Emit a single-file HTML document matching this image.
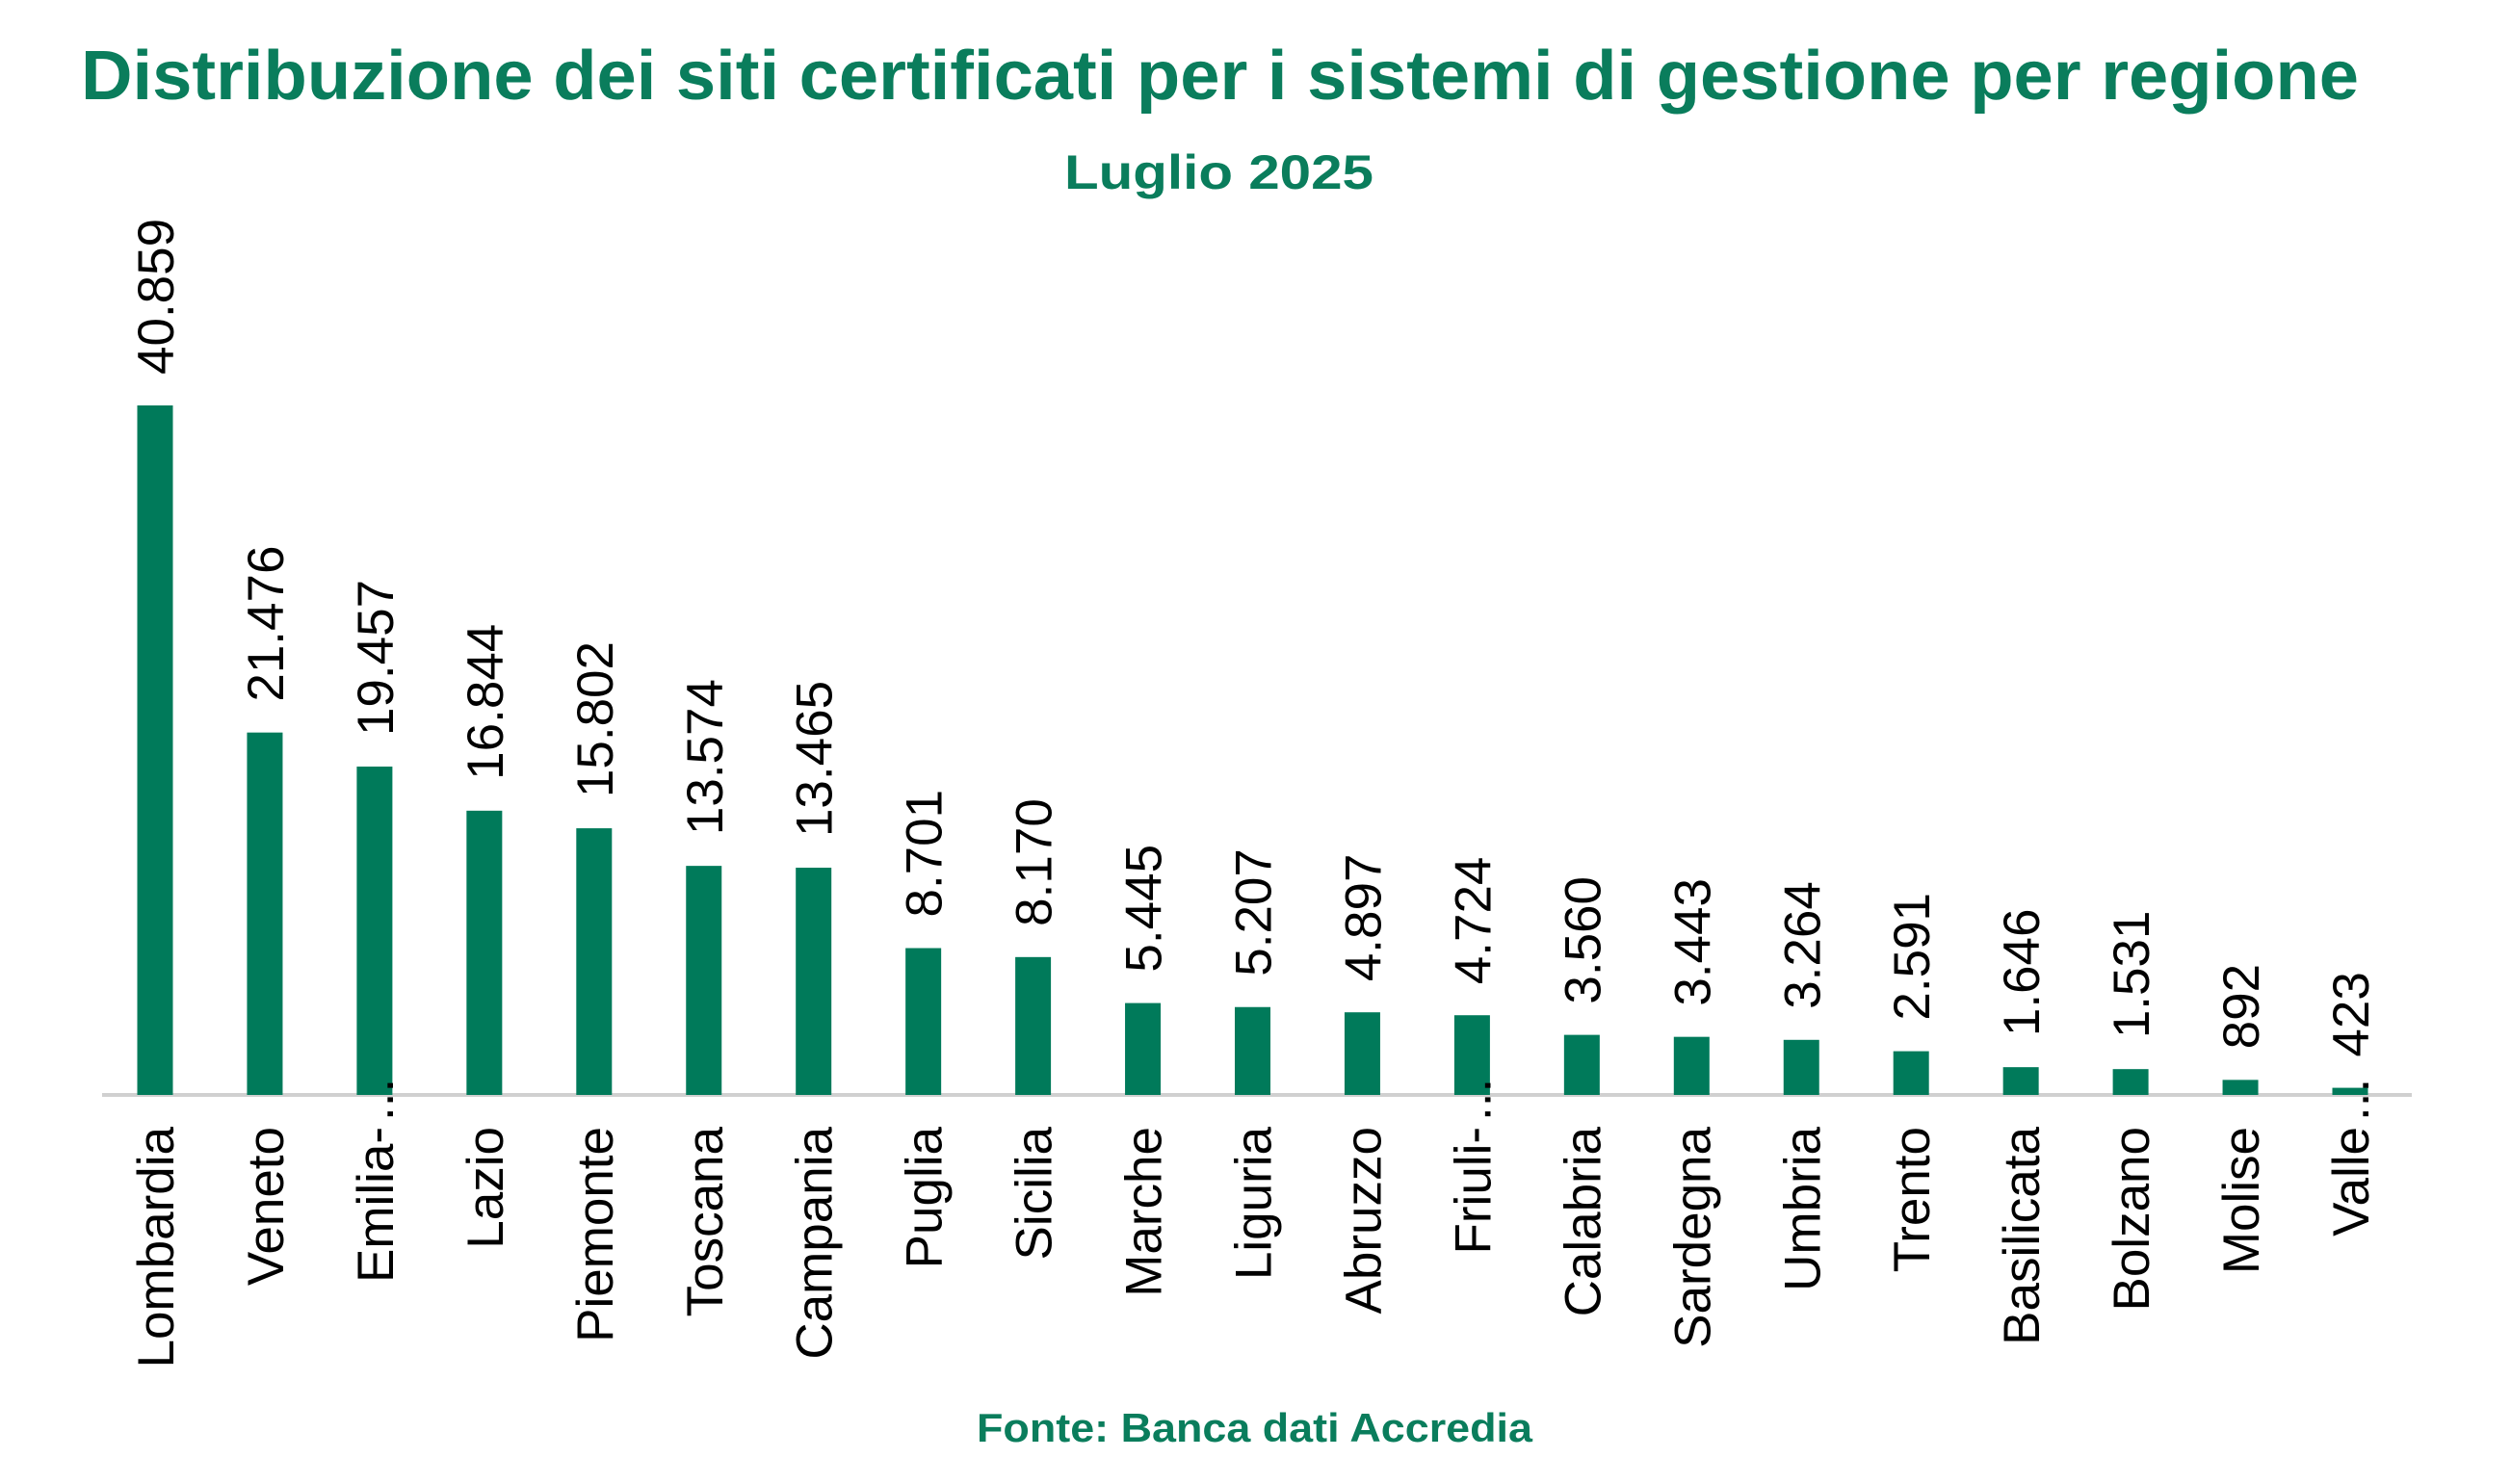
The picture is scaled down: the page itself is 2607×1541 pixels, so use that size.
<!DOCTYPE html>
<html><head><meta charset="utf-8"><style>
html,body{margin:0;padding:0;background:#fff;}
svg{display:block;}
</style></head><body>
<svg width="2607" height="1541" viewBox="0 0 2607 1541" xmlns="http://www.w3.org/2000/svg">
<g font-family="'Liberation Sans Narrow','Liberation Sans',sans-serif" font-weight="bold" fill="#0a7d5c">
<text x="84" y="103" font-size="72" textLength="2365" lengthAdjust="spacingAndGlyphs">Distribuzione dei siti certificati per i sistemi di gestione per regione</text>
<text x="1105" y="196" font-size="50" textLength="321" lengthAdjust="spacingAndGlyphs">Luglio 2025</text>
<text x="1014" y="1497" font-size="42" textLength="577" lengthAdjust="spacingAndGlyphs">Fonte: Banca dati Accredia</text>
</g>
<line x1="106" y1="1137" x2="2504" y2="1137" stroke="#d0d0d0" stroke-width="4"/>
<g id="bars" fill="#007a5a"></g>
<g id="labels" font-family="'Liberation Sans',Arial,sans-serif" font-size="53" fill="#000"></g>
<script>
(function(){
var vals=[40859,21476,19457,16844,15802,13574,13465,8701,8170,5445,5207,4897,4724,3560,3443,3264,2591,1646,1531,892,423];
var fmt=["40.859","21.476","19.457","16.844","15.802","13.574","13.465","8.701","8.170","5.445","5.207","4.897","4.724","3.560","3.443","3.264","2.591","1.646","1.531","892","423"];
var names=["Lombardia","Veneto","Emilia-","Lazio","Piemonte","Toscana","Campania","Puglia","Sicilia","Marche","Liguria","Abruzzo","Friuli-","Calabria","Sardegna","Umbria","Trento","Basilicata","Bolzano","Molise","Valle"];
var ell={2:1,12:1,20:1};
var base=1137,k=716/40859,b=document.getElementById('bars'),l=document.getElementById('labels'),ns="http://www.w3.org/2000/svg";
for(var i=0;i<21;i++){
 var cx=161+i*113.95,h=vals[i]*k,yt=base-h;
 var r=document.createElementNS(ns,'rect');
 r.setAttribute('x',cx-18.5);r.setAttribute('y',yt);r.setAttribute('width',37);r.setAttribute('height',h);b.appendChild(r);
 var t=document.createElementNS(ns,'text');
 t.setAttribute('transform','translate('+(cx+19)+','+(yt-32)+') rotate(-90)');
 t.textContent=fmt[i];l.appendChild(t);
 var c=document.createElementNS(ns,'text');
 c.setAttribute('transform','translate('+(cx+19)+',1170) rotate(-90)');
 c.setAttribute('text-anchor','end');c.textContent=names[i];l.appendChild(c);
 if(ell[i]){var e=document.createElementNS(ns,'text');
 e.setAttribute('transform','translate('+(cx+19)+',1164) rotate(-90)');
 e.textContent='...';l.appendChild(e);}
}
})();
</script>
</svg>
</body></html>
